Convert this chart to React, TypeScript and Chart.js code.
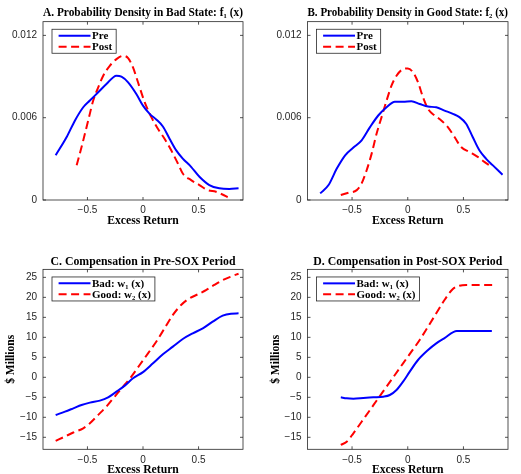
import React, { useEffect, useRef } from 'react';
import { Chart, registerables } from 'chart.js';

Chart.register(...registerables);

const SERIF = "'Liberation Serif', 'Times New Roman', serif";
const SANS = "'Liberation Sans', Arial, Helvetica, sans-serif";
const AXIS_COLOR = '#262626';
const BLUE = '#0000FF';
const RED = '#FF0000';
const DASH = [8, 4.5];

// ---------- tick values / labels ----------
const xTickValues = [-0.5, 0, 0.5];
const xTickLabels = ['\u22120.5', '0', '0.5'];
const densityTickValues = [0, 0.006, 0.012];
const densityTickLabels = ['0', '0.006', '0.012'];
const payTickValues = [-15, -10, -5, 0, 5, 10, 15, 20, 25];
const payTickLabels = ['\u221215', '\u221210', '\u22125', '0', '5', '10', '15', '20', '25'];

// ---------- Panel A: density in bad state ----------
const aPreX = [-0.786, -0.687, -0.612, -0.538, -0.478, -0.403, -0.329, -0.239, -0.194, -0.134, -0.06, 0, 0.06, 0.119, 0.179, 0.239, 0.299, 0.358, 0.433, 0.508, 0.597, 0.687, 0.777, 0.86];
const aPreY = [0.00326, 0.00459, 0.0058, 0.00676, 0.00725, 0.00785, 0.00845, 0.00906, 0.00899, 0.00858, 0.00773, 0.00688, 0.00628, 0.00587, 0.00536, 0.00447, 0.00362, 0.00302, 0.00242, 0.00169, 0.00109, 0.00085, 0.0008, 0.00085];
const aPostX = [-0.597, -0.553, -0.493, -0.448, -0.403, -0.358, -0.299, -0.239, -0.179, -0.134, -0.09, -0.045, 0.015, 0.075, 0.134, 0.194, 0.254, 0.314, 0.358, 0.433, 0.508, 0.582, 0.657, 0.71, 0.762];
const aPostY = [0.00254, 0.00386, 0.0058, 0.00725, 0.00821, 0.00906, 0.00978, 0.01027, 0.01051, 0.01034, 0.00966, 0.00858, 0.00713, 0.00604, 0.00519, 0.00447, 0.00362, 0.00266, 0.00193, 0.00145, 0.00109, 0.00072, 0.0006, 0.00042, 0.0002];

// ---------- Panel B: density in good state ----------
const bPreX = [-0.786, -0.711, -0.637, -0.562, -0.488, -0.414, -0.339, -0.265, -0.19, -0.116, -0.042, 0.033, 0.107, 0.182, 0.256, 0.33, 0.405, 0.464, 0.524, 0.583, 0.643, 0.702, 0.762, 0.851];
const bPreY = [0.00048, 0.00109, 0.00229, 0.00326, 0.00382, 0.00435, 0.00531, 0.00616, 0.00676, 0.00717, 0.00717, 0.0072, 0.007, 0.00681, 0.00676, 0.00652, 0.00628, 0.00604, 0.00556, 0.00459, 0.00362, 0.00302, 0.00254, 0.00184];
const bPostX = [-0.601, -0.533, -0.458, -0.414, -0.369, -0.324, -0.28, -0.235, -0.19, -0.146, -0.101, -0.042, 0, 0.048, 0.092, 0.137, 0.182, 0.241, 0.301, 0.36, 0.42, 0.479, 0.554, 0.628, 0.688, 0.732];
const bPostY = [0.00036, 0.00053, 0.00072, 0.00121, 0.00217, 0.00338, 0.00483, 0.00604, 0.00725, 0.00833, 0.00906, 0.00954, 0.00959, 0.0093, 0.00858, 0.00749, 0.00664, 0.00616, 0.0058, 0.00531, 0.00459, 0.00386, 0.0035, 0.00314, 0.00278, 0.00254];

// ---------- Panel C: compensation pre-SOX ----------
const cBadX = [-0.786, -0.702, -0.627, -0.553, -0.478, -0.388, -0.314, -0.239, -0.164, -0.09, 0, 0.09, 0.179, 0.269, 0.358, 0.448, 0.538, 0.627, 0.717, 0.792, 0.86];
const cBadY = [-9.42, -8.58, -7.75, -6.92, -6.33, -5.83, -5.0, -3.58, -2.08, -0.25, 1.3, 3.5, 5.75, 7.67, 9.58, 11.0, 12.25, 13.92, 15.42, 15.92, 16.0];
const cGoodX = [-0.786, -0.702, -0.627, -0.538, -0.478, -0.403, -0.329, -0.254, -0.179, -0.105, -0.03, 0.045, 0.119, 0.194, 0.269, 0.343, 0.418, 0.493, 0.567, 0.642, 0.717, 0.792, 0.86];
const cGoodY = [-15.9, -14.8, -13.8, -12.75, -11.5, -9.4, -7.3, -4.8, -2.3, 0.17, 3.08, 6.0, 8.9, 12.25, 15.6, 18.1, 19.75, 20.75, 21.8, 23.1, 24.3, 25.2, 25.9];

// ---------- Panel D: compensation post-SOX ----------
const dBadX = [-0.601, -0.548, -0.488, -0.399, -0.31, -0.22, -0.161, -0.101, -0.042, 0.018, 0.092, 0.182, 0.256, 0.33, 0.44, 0.554, 0.755];
const dBadY = [-5.0, -5.25, -5.33, -5.17, -5.0, -4.83, -4.42, -3.17, -1.08, 1.42, 4.33, 6.83, 8.5, 9.8, 11.58, 11.58, 11.58];
const dGoodX = [-0.601, -0.548, -0.488, -0.414, -0.339, -0.265, -0.19, -0.116, -0.042, 0.033, 0.107, 0.182, 0.256, 0.33, 0.405, 0.464, 0.524, 0.76];
const dGoodY = [-16.9, -16.1, -14.0, -11.1, -8.17, -5.25, -2.33, 0.58, 3.5, 6.42, 9.33, 12.67, 16.0, 19.33, 22.1, 22.9, 23.1, 23.1];

const zip = (xs: number[], ys: number[]) => xs.map((x, i) => ({ x, y: ys[i] }));

const framePlugin = {
  id: 'mlFrame',
  beforeDatasetsDraw(chart: any) {
    const { ctx, chartArea: a, scales } = chart;
    ctx.save();
    ctx.strokeStyle = AXIS_COLOR;
    ctx.lineWidth = 0.8;
    ctx.strokeRect(a.left, a.top, a.right - a.left, a.bottom - a.top);
    const L = 3;
    ctx.beginPath();
    scales.x.ticks.forEach((t: any) => {
      const px = scales.x.getPixelForValue(t.value);
      ctx.moveTo(px, a.bottom);
      ctx.lineTo(px, a.bottom - L);
      ctx.moveTo(px, a.top);
      ctx.lineTo(px, a.top + L);
    });
    scales.y.ticks.forEach((t: any) => {
      const py = scales.y.getPixelForValue(t.value);
      ctx.moveTo(a.left, py);
      ctx.lineTo(a.left + L, py);
      ctx.moveTo(a.right, py);
      ctx.lineTo(a.right - L, py);
    });
    ctx.stroke();
    ctx.restore();
  },
};

type LegendItem = { label: string; color: string; dash: number[] };

function makeLegend(items: LegendItem[]) {
  return {
    id: 'mlLegend',
    afterDatasetsDraw(chart: any) {
      const { ctx, chartArea: a } = chart;
      ctx.save();
      ctx.font = `bold 11px ${SERIF}`;
      const tw = Math.max(...items.map((it) => ctx.measureText(it.label).width));
      const bx = a.left + 9;
      const by = a.top + 7.6;
      const bw = 40 + tw + 4;
      const bh = 24;
      ctx.fillStyle = '#ffffff';
      ctx.fillRect(bx, by, bw, bh);
      ctx.strokeStyle = AXIS_COLOR;
      ctx.lineWidth = 0.8;
      ctx.strokeRect(bx, by, bw, bh);
      items.forEach((it, i) => {
        const cy = by + 6.4 + i * 11;
        ctx.beginPath();
        ctx.setLineDash(it.dash);
        ctx.strokeStyle = it.color;
        ctx.lineWidth = 2;
        ctx.moveTo(bx + 6.6, cy);
        ctx.lineTo(bx + 38.5, cy);
        ctx.stroke();
        ctx.setLineDash([]);
        ctx.fillStyle = '#000000';
        ctx.textBaseline = 'middle';
        ctx.textAlign = 'left';
        ctx.fillText(it.label, bx + 40, cy + 0.5);
      });
      ctx.restore();
    },
  };
}

type Spec = {
  left: number; top: number; w: number; h: number;
  areaLeft: number; areaRight: number; xAxisHeight: number;
  titlePadTop: number; titlePadBottom: number; xTitlePadBottom: number;
  title: string; yTitle?: string;
  yMin: number; yMax: number; yTicks: number[]; yLabels: string[];
  series: { label: string; xs: number[]; ys: number[]; color: string; dash: number[] }[];
};

function Panel({ spec }: { spec: Spec }) {
  const ref = useRef<HTMLCanvasElement | null>(null);
  useEffect(() => {
    if (!ref.current) return;
    const chart = new Chart(ref.current, {
      type: 'line',
      data: {
        datasets: spec.series.map((s) => ({
          label: s.label,
          data: zip(s.xs, s.ys),
          borderColor: s.color,
          backgroundColor: s.color,
          borderWidth: 2,
          borderDash: s.dash,
          pointRadius: 0,
          fill: false,
          cubicInterpolationMode: 'monotone' as const,
        })),
      },
      options: {
        responsive: false,
        animation: false,
        parsing: false as any,
        layout: { padding: { left: 0, top: 0, right: spec.w - spec.areaRight, bottom: 0 } },
        plugins: {
          legend: { display: false },
          tooltip: { enabled: false },
          title: {
            display: true,
            text: spec.title,
            fullSize: false,
            color: '#000000',
            font: { family: SERIF, size: 11.8, weight: 'bold', lineHeight: 1.2 },
            padding: { top: spec.titlePadTop, bottom: spec.titlePadBottom },
          },
        },
        scales: {
          x: {
            type: 'linear',
            min: -0.9,
            max: 0.9,
            grid: { display: false, drawTicks: false },
            border: { display: false },
            afterBuildTicks: (s: any) => {
              s.ticks = xTickValues.map((v) => ({ value: v }));
            },
            afterFit: (s: any) => {
              s.height = spec.xAxisHeight;
              s.paddingLeft = 0;
              s.paddingRight = 0;
            },
            ticks: {
              autoSkip: false,
              maxRotation: 0,
              padding: 4.5,
              color: AXIS_COLOR,
              font: { family: SANS, size: 10 },
              callback: (v: any) => {
                const i = xTickValues.indexOf(Number(v));
                return i >= 0 ? xTickLabels[i] : '';
              },
            },
            title: {
              display: true,
              text: 'Excess Return',
              color: '#000000',
              font: { family: SERIF, size: 11.7, weight: 'bold', lineHeight: 1.2 },
              padding: { top: 0, bottom: spec.xTitlePadBottom },
            },
          },
          y: {
            type: 'linear',
            min: spec.yMin,
            max: spec.yMax,
            grid: { display: false, drawTicks: false },
            border: { display: false },
            afterBuildTicks: (s: any) => {
              s.ticks = spec.yTicks.map((v) => ({ value: v }));
            },
            afterFit: (s: any) => {
              s.width = spec.areaLeft;
              s.paddingTop = 0;
              s.paddingBottom = 0;
            },
            ticks: {
              autoSkip: false,
              padding: 6,
              color: AXIS_COLOR,
              font: { family: SANS, size: 10 },
              callback: (v: any) => {
                const i = spec.yTicks.findIndex((t) => Math.abs(t - Number(v)) < 1e-9);
                return i >= 0 ? spec.yLabels[i] : '';
              },
            },
            title: {
              display: !!spec.yTitle,
              text: spec.yTitle || '',
              color: '#000000',
              font: { family: SERIF, size: 11.5, weight: 'bold', lineHeight: 1.2 },
              padding: { top: 3.8, bottom: 0 },
            },
          },
        },
      },
      plugins: [framePlugin, makeLegend(spec.series.map((s) => ({ label: s.label, color: s.color, dash: s.dash })))],
    } as any);
    return () => chart.destroy();
  }, [spec]);
  return (
    <canvas
      ref={ref}
      width={spec.w}
      height={spec.h}
      style={{ position: 'absolute', left: spec.left, top: spec.top, width: spec.w, height: spec.h }}
    />
  );
}

const topRow = { h: 237, xAxisHeight: 37, titlePadTop: 6.2, titlePadBottom: 1.3, xTitlePadBottom: 9 };
const bottomRow = { h: 226, xAxisHeight: 24.7, titlePadTop: 7.2, titlePadBottom: 0, xTitlePadBottom: -2.5 };
const leftCol = { left: 0, w: 260, areaLeft: 43, areaRight: 243 };
const rightCol = { left: 265, w: 256, areaLeft: 42.5, areaRight: 243 };

const specs: Spec[] = [
  {
    ...topRow, ...leftCol, top: 0,
    title: 'A. Probability Density in Bad State: f\u2081 (x)',
    yMin: 0, yMax: 0.013, yTicks: densityTickValues, yLabels: densityTickLabels,
    series: [
      { label: 'Pre', xs: aPreX, ys: aPreY, color: BLUE, dash: [] },
      { label: 'Post', xs: aPostX, ys: aPostY, color: RED, dash: DASH },
    ],
  },
  {
    ...topRow, ...rightCol, top: 0,
    title: 'B. Probability Density in Good State: f\u2082 (x)',
    yMin: 0, yMax: 0.013, yTicks: densityTickValues, yLabels: densityTickLabels,
    series: [
      { label: 'Pre', xs: bPreX, ys: bPreY, color: BLUE, dash: [] },
      { label: 'Post', xs: bPostX, ys: bPostY, color: RED, dash: DASH },
    ],
  },
  {
    ...bottomRow, ...leftCol, top: 248,
    title: 'C. Compensation in Pre-SOX Period', yTitle: '$ Millions',
    yMin: -18, yMax: 27, yTicks: payTickValues, yLabels: payTickLabels,
    series: [
      { label: 'Bad: w\u2081 (x)', xs: cBadX, ys: cBadY, color: BLUE, dash: [] },
      { label: 'Good: w\u2082 (x)', xs: cGoodX, ys: cGoodY, color: RED, dash: DASH },
    ],
  },
  {
    ...bottomRow, ...rightCol, top: 248,
    title: 'D. Compensation in Post-SOX Period', yTitle: '$ Millions',
    yMin: -18, yMax: 27, yTicks: payTickValues, yLabels: payTickLabels,
    series: [
      { label: 'Bad: w\u2081 (x)', xs: dBadX, ys: dBadY, color: BLUE, dash: [] },
      { label: 'Good: w\u2082 (x)', xs: dGoodX, ys: dGoodY, color: RED, dash: DASH },
    ],
  },
];

export default function App() {
  return (
    <div style={{ position: 'absolute', left: 0, top: 0, width: 521, height: 474, background: '#ffffff', overflow: 'hidden' }}>
      {specs.map((s, i) => (
        <Panel key={i} spec={s} />
      ))}
    </div>
  );
}
